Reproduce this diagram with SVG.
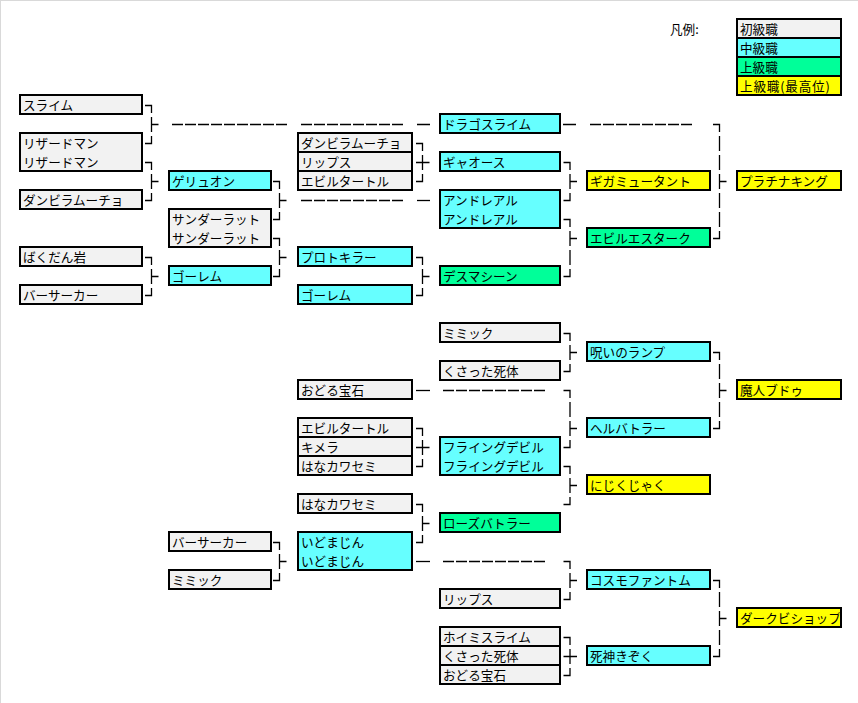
<svg xmlns="http://www.w3.org/2000/svg" width="858" height="703" viewBox="0 0 858 703">
<style>
.bx{stroke:#000;stroke-width:2}
.c1{fill:#f2f2f2}.c2{fill:#66ffff}.c3{fill:#00ff99}.c4{fill:#ffff00}
text{font-family:"Noto Sans CJK JP","Noto Sans CJK SC",sans-serif;font-size:12.6px;fill:#000}
.ln{fill:none;stroke:#000;stroke-width:1.3}
.ds{fill:none;stroke:#000;stroke-width:1.3;stroke-dasharray:11 2}
</style>
<rect x="0" y="0" width="858" height="703" fill="#fff"/>
<path d="M0 0.5H858M0.5 0V703" stroke="#d9d9d9" stroke-width="1" fill="none"/>

<g id="legend">
<text x="670" y="34">凡例:</text>
<rect class="bx c1" x="737" y="19" width="104" height="19"/><text x="740" y="34">初級職</text>
<rect class="bx c2" x="737" y="38" width="104" height="19"/><text x="740" y="53">中級職</text>
<rect class="bx c3" x="737" y="57" width="104" height="19"/><text x="740" y="72">上級職</text>
<rect class="bx c4" x="737" y="76" width="104" height="19"/><text x="740" y="91" letter-spacing="0.8">上級職(最高位)</text>
</g>

<g id="connectors">
<path class="ln" d="M145 105.5H151.5V113M151.5 117V132M151.5 124.5H158.5M151.5 136V143.5H145"/>
<path class="ln" d="M145 162.5H151.5V170M151.5 174V189M151.5 181.5H158.5M151.5 193V200.5H145"/>
<path class="ln" d="M145 257.5H151.5V265M151.5 269V284M151.5 276.5H158.5M151.5 288V295.5H145"/>
<path class="ln" d="M273 181.5H279.5V189M279.5 193V208M279.5 200.5H286.5M279.5 212V219.5H273"/>
<path class="ln" d="M273 238.5H279.5V246M279.5 250V265M279.5 257.5H286.5M279.5 269V276.5H273"/>
<path class="ln" d="M273 542.5H279.5V550M279.5 554V569M279.5 561.5H286.5M279.5 573V580.5H273"/>
<path class="ln" d="M416 143.5H422.5V151M422.5 155V170M416 162.5H429.5M422.5 174V181.5H416"/>
<path class="ln" d="M416 257.5H422.5V265M422.5 269V284M422.5 276.5H429.5M422.5 288V295.5H416"/>
<path class="ln" d="M416 428.5H422.5V436M422.5 440V455M416 447.5H429.5M422.5 459V466.5H416"/>
<path class="ln" d="M416 504.5H422.5V512M422.5 516V531M422.5 523.5H429.5M422.5 535V542.5H416"/>
<path class="ln" d="M563.5 162.5H570V170M570 174V189M570 181.5H577M570 193V200.5H563.5"/>
<path class="ln" d="M563.5 219.5H570V227M570 231V246M570 238.5H577M570 250V265M570 269V276.5H563.5"/>
<path class="ln" d="M563.5 333.5H570V341M570 345V360M570 352.5H577M570 364V371.5H563.5"/>
<path class="ln" d="M563.5 390.5H570V398M570 402V417M570 421V436M570 428.5H577M570 440V447.5H563.5"/>
<path class="ln" d="M563.5 466.5H570V474M570 478V493M570 485.5H577M570 497V504.5H563.5"/>
<path class="ln" d="M563.5 561.5H570V569M570 573V588M570 580.5H577M570 592V599.5H563.5"/>
<path class="ln" d="M563.5 637.5H570V645M570 649V664M563.5 656.5H577M570 668V675.5H563.5"/>
<path class="ln" d="M713 124.5H719.5V132M719.5 136V151M719.5 155V170M719.5 174V189M719.5 181.5H726.5M719.5 193V208M719.5 212V227M719.5 231V238.5H713"/>
<path class="ln" d="M713 352.5H719.5V360M719.5 364V379M719.5 383V398M719.5 390.5H726.5M719.5 402V417M719.5 421V428.5H713"/>
<path class="ln" d="M713 580.5H719.5V588M719.5 592V607M719.5 611V626M719.5 618.5H726.5M719.5 630V645M719.5 649V656.5H713"/>
<path class="ds" d="M172 124.5H287"/>
<path class="ds" d="M301 124.5H403"/>
<path class="ln" d="M417 124.5H430M563 124.5H576"/>
<path class="ds" d="M590 124.5H692"/>
<path class="ds" d="M301 200.5H403"/>
<path class="ln" d="M417 200.5H430"/>
<path class="ln" d="M416 390.5H430"/>
<path class="ds" d="M443 390.5H545"/>
<path class="ln" d="M416 561.5H430"/>
<path class="ds" d="M443 561.5H545"/>
</g>

<g id="n-slime"><rect class="bx c1" x="20" y="95" width="122" height="19"/><text x="23" y="110">スライム</text></g>
<g id="n-lizardman"><rect class="bx c1" x="20" y="133" width="122" height="38"/><text x="23" y="148">リザードマン</text><text x="23" y="167">リザードマン</text></g>
<g id="n-danbira1"><rect class="bx c1" x="20" y="190" width="122" height="19"/><text x="23" y="205">ダンビラムーチョ</text></g>
<g id="n-bakudan"><rect class="bx c1" x="20" y="247" width="122" height="19"/><text x="23" y="262">ばくだん岩</text></g>
<g id="n-berserker1"><rect class="bx c1" x="20" y="285" width="122" height="19"/><text x="23" y="300">バーサーカー</text></g>

<g id="n-geryuon"><rect class="bx c2" x="169" y="171" width="102" height="19"/><text x="172" y="186">ゲリュオン</text></g>
<g id="n-thunderrat"><rect class="bx c1" x="169" y="209" width="102" height="38"/><text x="172" y="224">サンダーラット</text><text x="172" y="243">サンダーラット</text></g>
<g id="n-golem1"><rect class="bx c2" x="169" y="266" width="102" height="19"/><text x="172" y="281">ゴーレム</text></g>
<g id="n-berserker2"><rect class="bx c1" x="169" y="532" width="102" height="19"/><text x="172" y="547">バーサーカー</text></g>
<g id="n-mimic1"><rect class="bx c1" x="169" y="570" width="102" height="19"/><text x="172" y="585">ミミック</text></g>

<g id="n-danbira2"><rect class="bx c1" x="298" y="133" width="114" height="19"/><text x="301" y="148">ダンビラムーチョ</text></g>
<g id="n-lips1"><rect class="bx c1" x="298" y="152" width="114" height="19"/><text x="301" y="167">リップス</text></g>
<g id="n-eviltortle1"><rect class="bx c1" x="298" y="171" width="114" height="19"/><text x="301" y="186">エビルタートル</text></g>
<g id="n-protokiller"><rect class="bx c2" x="298" y="247" width="114" height="19"/><text x="301" y="262">プロトキラー</text></g>
<g id="n-golem2"><rect class="bx c2" x="298" y="285" width="114" height="19"/><text x="301" y="300">ゴーレム</text></g>
<g id="n-dancingjewel1"><rect class="bx c1" x="298" y="380" width="114" height="19"/><text x="301" y="395">おどる宝石</text></g>
<g id="n-eviltortle2"><rect class="bx c1" x="298" y="418" width="114" height="19"/><text x="301" y="433">エビルタートル</text></g>
<g id="n-chimera"><rect class="bx c1" x="298" y="437" width="114" height="19"/><text x="301" y="452">キメラ</text></g>
<g id="n-hanakawasemi1"><rect class="bx c1" x="298" y="456" width="114" height="19"/><text x="301" y="471">はなカワセミ</text></g>
<g id="n-hanakawasemi2"><rect class="bx c1" x="298" y="494" width="114" height="19"/><text x="301" y="509">はなカワセミ</text></g>
<g id="n-idomajin"><rect class="bx c2" x="298" y="532" width="114" height="38"/><text x="301" y="547">いどまじん</text><text x="301" y="566">いどまじん</text></g>

<g id="n-dragoslime"><rect class="bx c2" x="440" y="114" width="120" height="19"/><text x="443" y="129">ドラゴスライム</text></g>
<g id="n-gyaos"><rect class="bx c2" x="440" y="152" width="120" height="19"/><text x="443" y="167">ギャオース</text></g>
<g id="n-andreal"><rect class="bx c2" x="440" y="190" width="120" height="38"/><text x="443" y="205">アンドレアル</text><text x="443" y="224">アンドレアル</text></g>
<g id="n-deathmachine"><rect class="bx c3" x="440" y="266" width="120" height="19"/><text x="443" y="281">デスマシーン</text></g>
<g id="n-mimic2"><rect class="bx c1" x="440" y="323" width="120" height="19"/><text x="443" y="338">ミミック</text></g>
<g id="n-kusatta1"><rect class="bx c1" x="440" y="361" width="120" height="19"/><text x="443" y="376">くさった死体</text></g>
<g id="n-flyingdevil"><rect class="bx c2" x="440" y="437" width="120" height="38"/><text x="443" y="452">フライングデビル</text><text x="443" y="471">フライングデビル</text></g>
<g id="n-rosebattler"><rect class="bx c3" x="440" y="513" width="120" height="19"/><text x="443" y="528">ローズバトラー</text></g>
<g id="n-lips2"><rect class="bx c1" x="440" y="589" width="120" height="19"/><text x="443" y="604">リップス</text></g>
<g id="n-hoimislime"><rect class="bx c1" x="440" y="627" width="120" height="19"/><text x="443" y="642">ホイミスライム</text></g>
<g id="n-kusatta2"><rect class="bx c1" x="440" y="646" width="120" height="19"/><text x="443" y="661">くさった死体</text></g>
<g id="n-dancingjewel2"><rect class="bx c1" x="440" y="665" width="120" height="19"/><text x="443" y="680">おどる宝石</text></g>

<g id="n-gigamutant"><rect class="bx c4" x="587" y="171" width="123" height="19"/><text x="590" y="186">ギガミュータント</text></g>
<g id="n-evilestark"><rect class="bx c3" x="587" y="228" width="123" height="19"/><text x="590" y="243">エビルエスターク</text></g>
<g id="n-curselamp"><rect class="bx c2" x="587" y="342" width="123" height="19"/><text x="590" y="357">呪いのランプ</text></g>
<g id="n-hellbattler"><rect class="bx c2" x="587" y="418" width="123" height="19"/><text x="590" y="433">ヘルバトラー</text></g>
<g id="n-nijikujaku"><rect class="bx c4" x="587" y="475" width="123" height="19"/><text x="590" y="490">にじくじゃく</text></g>
<g id="n-cosmophantom"><rect class="bx c2" x="587" y="570" width="123" height="19"/><text x="590" y="585">コスモファントム</text></g>
<g id="n-shinigami"><rect class="bx c2" x="587" y="646" width="123" height="19"/><text x="590" y="661">死神きぞく</text></g>

<g id="n-platinumking"><rect class="bx c4" x="737" y="171" width="104" height="19"/><text x="740" y="186">プラチナキング</text></g>
<g id="n-majinbudo"><rect class="bx c4" x="737" y="380" width="104" height="19"/><text x="740" y="395">魔人ブドゥ</text></g>
<g id="n-darkbishop"><rect class="bx c4" x="737" y="608" width="104" height="19"/><text x="740" y="623">ダークビショップ</text></g>
</svg>
